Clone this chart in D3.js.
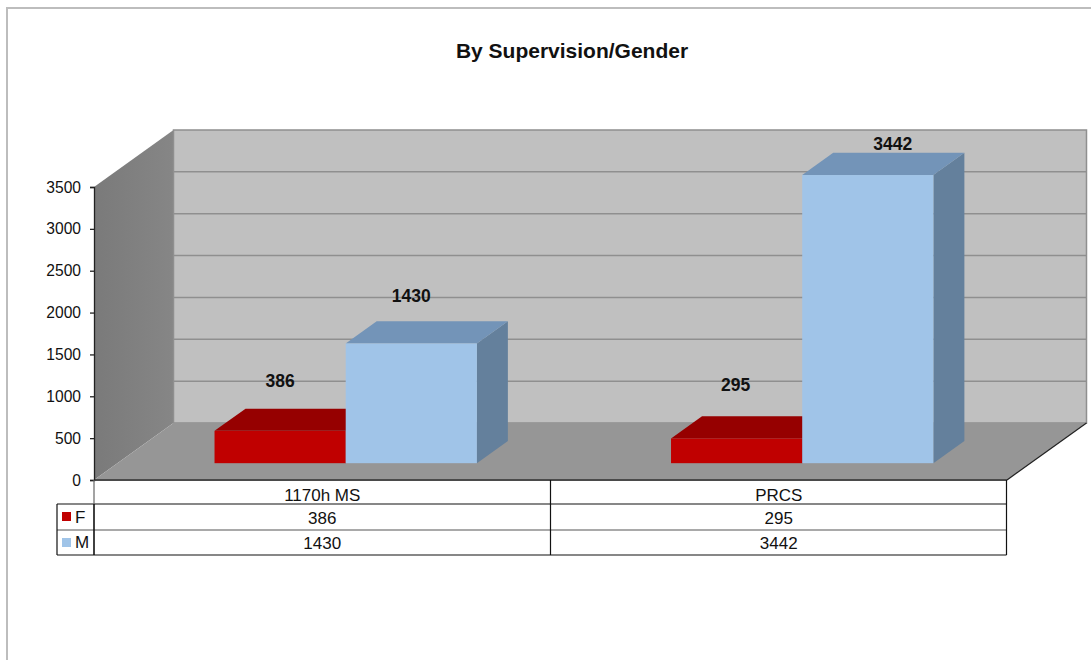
<!DOCTYPE html>
<html>
<head>
<meta charset="utf-8">
<script src="https://cdn.jsdelivr.net/npm/d3@7"></script>
<style>
  html, body { margin: 0; padding: 0; background: #fff; }
  text { font-family: "Liberation Sans", Arial, sans-serif; fill: #111; }
</style>
</head>
<body>
<div id="chart"></div>
<script>
const title = "By Supervision/Gender";
const categories = ["1170h MS", "PRCS"];
const seriesNames = ["F", "M"];
const valuesF = [386, 295];
const valuesM = [1430, 3442];
const yTicks = [0, 500, 1000, 1500, 2000, 2500, 3000, 3500];

const width = 1091, height = 660;

// plot box, front edge of the floor
const left = 94, right = 1007, floorY = 480, topY = 187;
// depth of the whole box and the part of it a bar sits in
const depthX = 79.5, depthY = -57;
const barDepthStart = 0.295, barDepthEnd = 0.685;

const colors = {
  F: { front: "#c00000", top: "#960000", side: "#7a0000" },
  M: { front: "#a0c4e8", top: "#7394b8", side: "#64809c" }
};

const svg = d3.select("#chart").append("svg")
  .attr("width", width)
  .attr("height", height)
  .style("display", "block");

// chart frame
svg.append("path")
  .attr("d", `M7,${height} V8 H${width}`)
  .attr("fill", "none")
  .attr("stroke", "#bdbdbd")
  .attr("stroke-width", 2);

svg.append("text")
  .attr("x", 572)
  .attr("y", 58)
  .attr("text-anchor", "middle")
  .attr("font-size", 21)
  .attr("font-weight", "bold")
  .text(title);

const y = d3.scaleLinear().domain([0, 3500]).range([floorY, topY]);
const x0 = d3.scaleBand().domain(categories).range([left, right]);
const x1 = d3.scaleBand().domain(seriesNames).range([0, x0.bandwidth()])
  .paddingInner(0).paddingOuter(0.74);

const polygon = (pts) => pts.map((p) => p.join(",")).join(" ");

// walls and floor
const wallDefs = svg.append("defs");
const sideGrad = wallDefs.append("linearGradient").attr("id", "side-wall")
  .attr("x1", 0).attr("x2", 1).attr("y1", 0).attr("y2", 0);
sideGrad.append("stop").attr("offset", 0).attr("stop-color", "#7a7a7a");
sideGrad.append("stop").attr("offset", 1).attr("stop-color", "#868686");

svg.append("polygon")
  .attr("points", polygon([
    [left, floorY], [left, topY],
    [left + depthX, topY + depthY], [left + depthX, floorY + depthY]
  ]))
  .attr("fill", "url(#side-wall)");

svg.append("rect")
  .attr("x", left + depthX)
  .attr("y", topY + depthY)
  .attr("width", right - left)
  .attr("height", floorY - topY)
  .attr("fill", "#c0c0c0")
  .attr("stroke", "#8f8f8f")
  .attr("stroke-width", 1.5);

svg.append("polygon")
  .attr("points", polygon([
    [left, floorY], [right, floorY],
    [right + depthX, floorY + depthY], [left + depthX, floorY + depthY]
  ]))
  .attr("fill", "#969696");

// gridlines on the back wall
svg.append("g").selectAll("line")
  .data(yTicks.slice(1, -1))
  .enter()
  .append("line")
  .attr("x1", left + depthX)
  .attr("x2", right + depthX)
  .attr("y1", (d) => y(d) + depthY)
  .attr("y2", (d) => y(d) + depthY)
  .attr("stroke", "#8f8f8f")
  .attr("stroke-width", 1.5);

// edges of the floor
svg.append("line")
  .attr("x1", right).attr("y1", floorY)
  .attr("x2", right + depthX).attr("y2", floorY + depthY)
  .attr("stroke", "#222").attr("stroke-width", 1.2);
svg.append("line")
  .attr("x1", left).attr("y1", floorY)
  .attr("x2", right).attr("y2", floorY)
  .attr("stroke", "#4a4a4a").attr("stroke-width", 2);

// bars
const bars = [];
categories.forEach((cat, i) => {
  bars.push({ cat, name: "F", value: valuesF[i] });
  bars.push({ cat, name: "M", value: valuesM[i] });
});

const barGroup = svg.append("g").selectAll("g")
  .data(bars)
  .enter()
  .append("g");

const ox = depthX * barDepthStart, oy = depthY * barDepthStart;
const bx = depthX * (barDepthEnd - barDepthStart);
const by = depthY * (barDepthEnd - barDepthStart);
const barX = (d) => x0(d.cat) + x1(d.name) + ox;
const barTop = (d) => y(d.value) + oy;
const barBottom = floorY + oy;

barGroup.append("polygon")
  .attr("points", (d) => {
    const r = barX(d) + x1.bandwidth();
    return polygon([
      [r, barBottom], [r, barTop(d)], [r + bx, barTop(d) + by], [r + bx, barBottom + by]
    ]);
  })
  .attr("fill", (d) => colors[d.name].side);

barGroup.append("polygon")
  .attr("points", (d) => {
    const l = barX(d), r = l + x1.bandwidth(), t = barTop(d);
    return polygon([[l, t], [r, t], [r + bx, t + by], [l + bx, t + by]]);
  })
  .attr("fill", (d) => colors[d.name].top);

barGroup.append("rect")
  .attr("x", barX)
  .attr("y", barTop)
  .attr("width", x1.bandwidth())
  .attr("height", (d) => barBottom - barTop(d))
  .attr("fill", (d) => colors[d.name].front);

// data labels were dragged by hand in the original, so each one has its own nudge
const labelNudge = [[0, -44], [0, -41], [-1, -47], [25, -25]];
svg.append("g").selectAll("text")
  .data(bars)
  .enter()
  .append("text")
  .attr("x", (d, i) => barX(d) + x1.bandwidth() / 2 + labelNudge[i][0])
  .attr("y", (d, i) => barTop(d) + labelNudge[i][1])
  .attr("text-anchor", "middle")
  .attr("font-size", 17.5)
  .attr("font-weight", "bold")
  .text((d) => d.value);

// y axis
const yAxis = svg.append("g")
  .attr("transform", `translate(${left},0)`)
  .call(d3.axisLeft(y).tickValues(yTicks).tickFormat(d3.format("d")).tickSize(4).tickPadding(9));
yAxis.selectAll("path, line").attr("stroke", "#222").attr("stroke-width", 1.3);
yAxis.selectAll("text").attr("font-size", 15.6).attr("font-family", null);

// data table
const rowTops = [480, 504, 530, 555];
const rowBaselines = [501, 523.5, 548.5];
const tableLeft = 57;
const tableRight = 1006.5;
const tableLines = svg.append("g")
  .attr("stroke", "#111")
  .attr("stroke-width", 1.2);

rowTops.slice(1).forEach((ry, i) => {
  tableLines.append("line")
    .attr("x1", tableLeft).attr("x2", tableRight)
    .attr("y1", ry).attr("y2", ry)
    .attr("stroke", i === 1 ? "#555" : "#111");
});
tableLines.append("line")
  .attr("x1", tableLeft).attr("x2", tableLeft)
  .attr("y1", rowTops[1]).attr("y2", rowTops[3]);
// header row of the left edge is fainter, the legend part is heavy
tableLines.append("line")
  .attr("x1", left).attr("x2", left)
  .attr("y1", rowTops[0]).attr("y2", rowTops[1])
  .attr("stroke", "#666");
tableLines.append("line")
  .attr("x1", left).attr("x2", left)
  .attr("y1", rowTops[1]).attr("y2", rowTops[3])
  .attr("stroke-width", 1.6);
[left + x0.bandwidth(), tableRight].forEach((lx) => {
  tableLines.append("line")
    .attr("x1", lx).attr("x2", lx)
    .attr("y1", rowTops[0]).attr("y2", rowTops[3]);
});

const rows = [categories, valuesF, valuesM];
rows.forEach((row, r) => {
  svg.append("g").selectAll("text")
    .data(row)
    .enter()
    .append("text")
    .attr("x", (d, i) => x0(categories[i]) + x0.bandwidth() / 2)
    .attr("y", rowBaselines[r])
    .attr("text-anchor", "middle")
    .attr("font-size", 17)
    .text((d) => d);
});

// legend keys in the table
seriesNames.forEach((name, i) => {
  svg.append("rect")
    .attr("x", 62)
    .attr("y", rowTops[i + 1] + 8)
    .attr("width", 9)
    .attr("height", 9)
    .attr("fill", colors[name].front);
  svg.append("text")
    .attr("x", 75)
    .attr("y", rowBaselines[i + 1] - 1)
    .attr("font-size", 17)
    .text(name);
});
</script>
</body>
</html>
